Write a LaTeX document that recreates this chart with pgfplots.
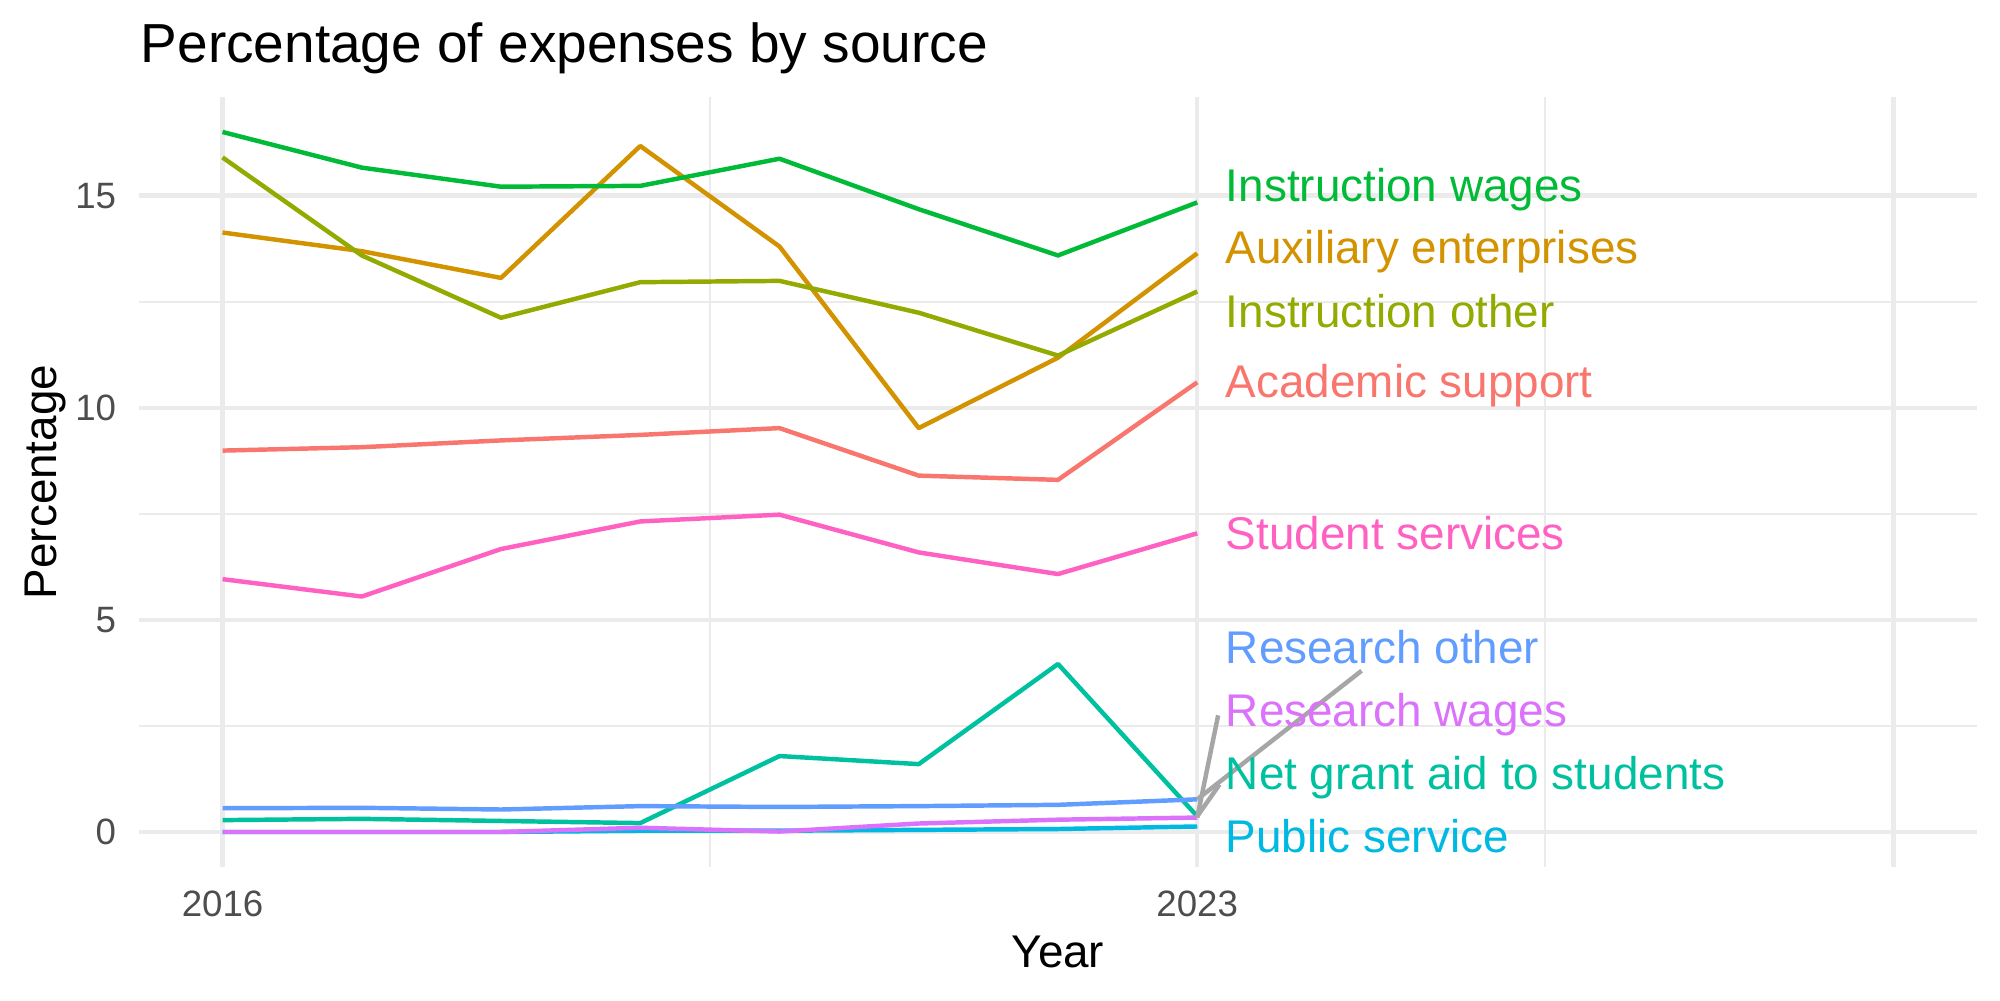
\documentclass[border=0pt]{standalone}
\usepackage{fontspec}
\setmainfont{Liberation Sans}
\usepackage{pgfplots}
\pgfplotsset{compat=1.18}

% palette (one hue per expense source)
\definecolor{cAcad}{HTML}{F8766D}
\definecolor{cAux}{HTML}{D39200}
\definecolor{cInsO}{HTML}{93AA00}
\definecolor{cInsW}{HTML}{00BA38}
\definecolor{cGrant}{HTML}{00C19F}
\definecolor{cPub}{HTML}{00B9E3}
\definecolor{cResO}{HTML}{619CFF}
\definecolor{cResW}{HTML}{DB72FB}
\definecolor{cStud}{HTML}{FF61C3}
\definecolor{gridgrey}{HTML}{EBEBEB}
\definecolor{tickgrey}{HTML}{4D4D4D}
\definecolor{segGrey}{HTML}{A6A6A6}

\newcommand{\lblfont}{\fontsize{11bp}{13bp}\selectfont}

\begin{document}
\begin{tikzpicture}
\path[use as bounding box] (0,0) rectangle (480bp,240bp);

\begin{axis}[
  at={(33.36bp,31.92bp)}, anchor=south west,
  width=441.12bp, height=184.8bp, scale only axis,
  xmin=2015.4, xmax=2028.6, ymin=-0.825, ymax=17.325,
  axis line style={draw=none},
  major tick length=0pt, minor tick length=0pt,
  tick style={draw=none},
  xtick={2016,2023}, xticklabels={2016,2023},
  extra x ticks={2028}, extra x tick labels={},
  extra x tick style={grid=major, major grid style={draw=gridgrey, line width=1.07bp}},
  minor xtick={2019.5,2025.5},
  ytick={0,5,10,15}, yticklabels={0,5,10,15},
  minor ytick={2.5,7.5,12.5},
  grid=both,
  major grid style={draw=gridgrey, line width=1.07bp},
  minor grid style={draw=gridgrey, line width=0.53bp},
  xticklabel style={font=\fontsize{8.8bp}{10bp}\selectfont, text=tickgrey, anchor=north, inner sep=0pt, yshift=-5.5bp},
  yticklabel style={font=\fontsize{8.8bp}{10bp}\selectfont, text=tickgrey, anchor=east, inner sep=0pt, xshift=-5.3bp},
  clip=false,
  every axis plot/.append style={line width=1.07bp, line join=round, mark=none},
]

% Academic support
\addplot[cAcad] coordinates {(2016,8.99) (2017,9.07) (2018,9.23) (2019,9.36) (2020,9.52) (2021,8.40) (2022,8.30) (2023,10.60)};
% Auxiliary enterprises
\addplot[cAux] coordinates {(2016,14.13) (2017,13.69) (2018,13.06) (2019,16.17) (2020,13.80) (2021,9.52) (2022,11.18) (2023,13.64)};
% Instruction other
\addplot[cInsO] coordinates {(2016,15.90) (2017,13.59) (2018,12.12) (2019,12.96) (2020,12.99) (2021,12.24) (2022,11.23) (2023,12.74)};
% Instruction wages
\addplot[cInsW] coordinates {(2016,16.50) (2017,15.66) (2018,15.21) (2019,15.23) (2020,15.87) (2021,14.68) (2022,13.59) (2023,14.84)};
% Net grant aid to students
\addplot[cGrant] coordinates {(2016,0.28) (2017,0.31) (2018,0.26) (2019,0.21) (2020,1.79) (2021,1.60) (2022,3.96) (2023,0.37)};
% Public service
\addplot[cPub] coordinates {(2016,0.00) (2017,0.00) (2018,0.00) (2019,0.03) (2020,0.03) (2021,0.05) (2022,0.07) (2023,0.13)};
% Research other
\addplot[cResO] coordinates {(2016,0.56) (2017,0.57) (2018,0.53) (2019,0.61) (2020,0.59) (2021,0.61) (2022,0.64) (2023,0.77)};
% Research wages
\addplot[cResW] coordinates {(2016,0.00) (2017,0.00) (2018,0.00) (2019,0.10) (2020,0.01) (2021,0.20) (2022,0.29) (2023,0.34)};
% Student services
\addplot[cStud] coordinates {(2016,5.96) (2017,5.55) (2018,6.67) (2019,7.32) (2020,7.48) (2021,6.59) (2022,6.08) (2023,7.04)};

% leader segments for the crowded labels
\addplot[segGrey] coordinates {(2023,0.77) (2024.18,3.80)};
\addplot[segGrey] coordinates {(2023,0.34) (2023.15,2.75)};
\addplot[segGrey] coordinates {(2023,0.37) (2023.16,1.12)};

% end-of-line labels
\node[anchor=base west, inner sep=0pt, text=cInsW, font=\lblfont] at (axis cs:2023.2,14.87) {Instruction wages};
\node[anchor=base west, inner sep=0pt, text=cAux, font=\lblfont] at (axis cs:2023.2,13.40) {Auxiliary enterprises};
\node[anchor=base west, inner sep=0pt, text=cInsO, font=\lblfont] at (axis cs:2023.2,11.90) {Instruction other};
\node[anchor=base west, inner sep=0pt, text=cAcad, font=\lblfont] at (axis cs:2023.2,10.25) {Academic support};
\node[anchor=base west, inner sep=0pt, text=cStud, font=\lblfont] at (axis cs:2023.2,6.67) {Student services};
\node[anchor=base west, inner sep=0pt, text=cResO, font=\lblfont] at (axis cs:2023.2,3.97) {Research other};
\node[anchor=base west, inner sep=0pt, text=cResW, font=\lblfont] at (axis cs:2023.2,2.49) {Research wages};
\node[anchor=base west, inner sep=0pt, text=cGrant, font=\lblfont] at (axis cs:2023.2,1.00) {Net grant aid to students};
\node[anchor=base west, inner sep=0pt, text=cPub, font=\lblfont] at (axis cs:2023.2,-0.49) {Public service};
\end{axis}

% titles
\node[anchor=base west, inner sep=0pt, font=\fontsize{13.2bp}{16bp}\selectfont] at (33.6bp,224.88bp) {Percentage of expenses by source};
\node[anchor=base, inner sep=0pt, font=\fontsize{11bp}{13bp}\selectfont] at (253.9bp,7.92bp) {Year};
\node[anchor=base, rotate=90, inner sep=0pt, font=\fontsize{11bp}{13bp}\selectfont] at (13.5bp,124.32bp) {Percentage};
\end{tikzpicture}
\end{document}
